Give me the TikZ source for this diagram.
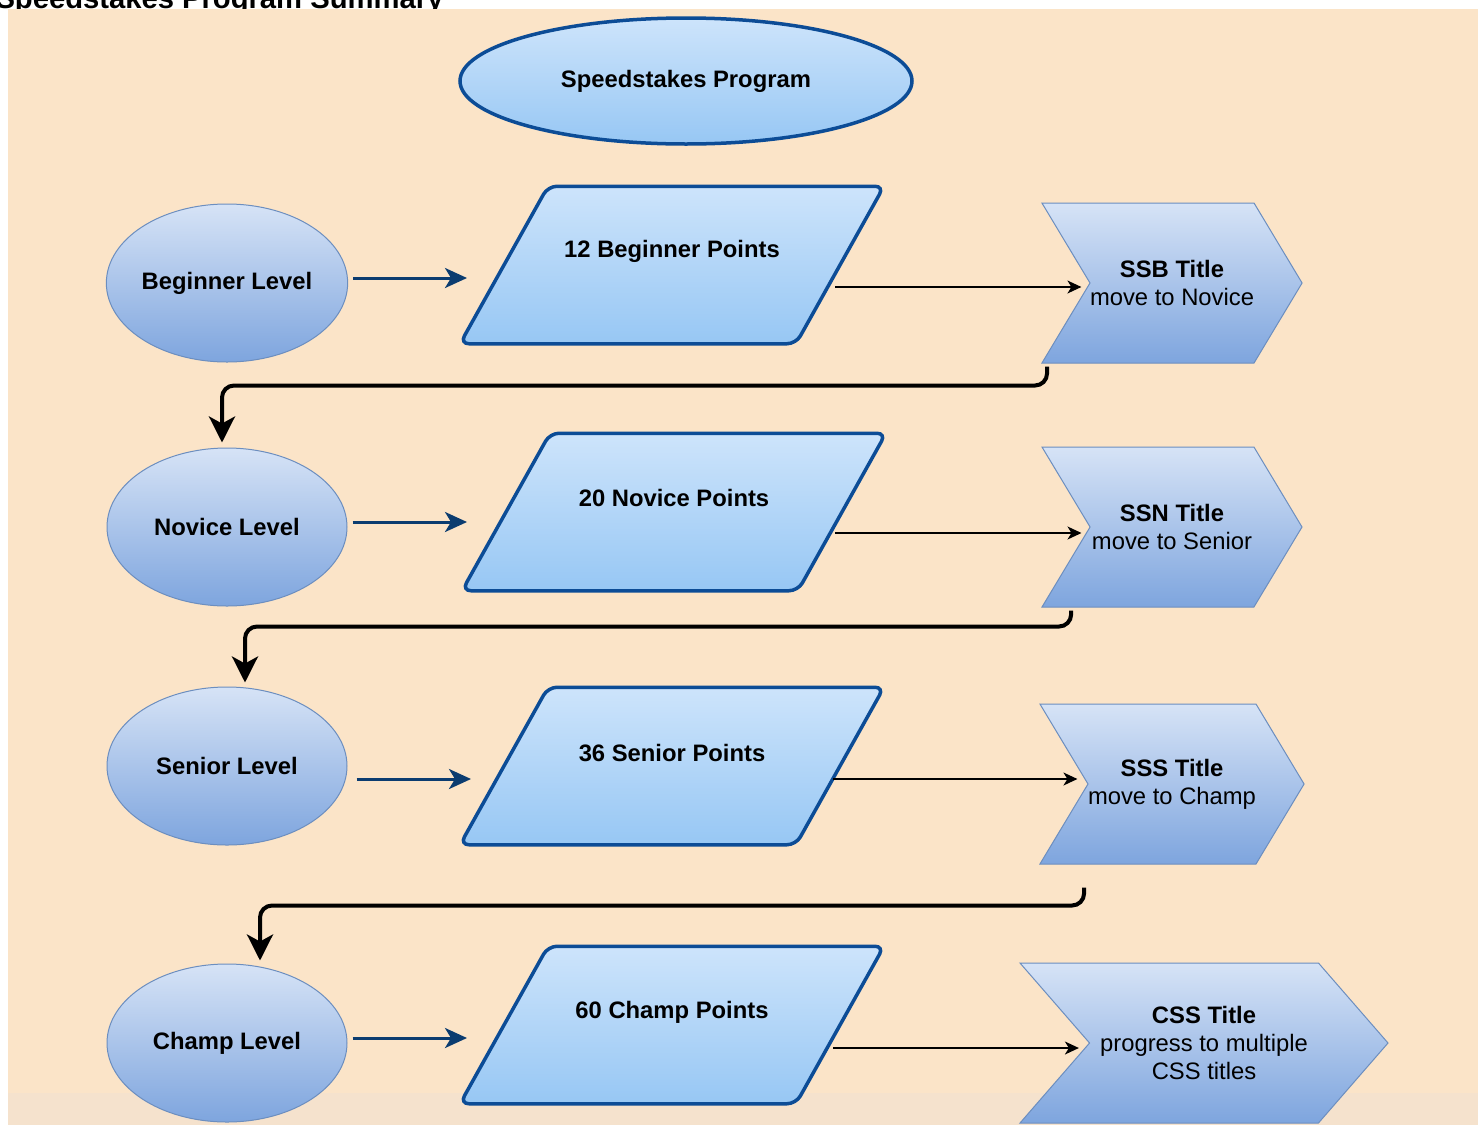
\documentclass[tikz,border=0pt]{standalone}
\usepackage{fontspec}
\setmainfont{Liberation Sans}
\usetikzlibrary{shapes.geometric, shapes.symbols, arrows.meta}

\definecolor{peach}{HTML}{FBE4C8}
\definecolor{peachlow}{HTML}{F5E2CD}
\definecolor{navy}{HTML}{0C4C96}
\definecolor{navyarrow}{HTML}{0B3C70}
\definecolor{skytop}{HTML}{CDE4FB}
\definecolor{skybot}{HTML}{97C7F4}
\definecolor{steeltop}{HTML}{D6E3F6}
\definecolor{steelbot}{HTML}{7EA5DE}
\definecolor{steelline}{HTML}{6C8EBF}

\begin{document}
\begin{tikzpicture}[x=1pt, y=-1pt, line width=1pt,
  every node/.style={font=\fontsize{23.8}{28}\selectfont, inner sep=0pt},
  program/.style={ellipse, draw=navy, line width=3.5pt, top color=skytop, bottom color=skybot,
                  minimum width=452pt, minimum height=126pt, font=\bfseries\fontsize{23.8}{28}\selectfont},
  level/.style={ellipse, draw=steelline, top color=steeltop, bottom color=steelbot,
                minimum width=240pt, minimum height=158pt, font=\bfseries\fontsize{23.8}{28}\selectfont},
  points/.style={rectangle, minimum width=423pt, minimum height=156.5pt},
  pointsframe/.style={draw=navy, line width=3.5pt, rounded corners=9pt, top color=skytop, bottom color=skybot},
  pointstext/.style={font=\bfseries\fontsize{23.8}{28}\selectfont},
  titlestep/.style={signal, signal from=west, signal to=east, signal pointer angle=118,
                    draw=steelline, top color=steeltop, bottom color=steelbot, align=center,
                    minimum width=260pt, minimum height=160pt},
  bluearrow/.style={draw=navyarrow, line width=3pt, -{Stealth[length=22pt, width=20pt, inset=6pt]}},
  thinarrow/.style={draw=black, line width=1.5pt, -{Stealth[length=14pt, width=13pt, inset=4pt]}},
  elbow/.style={draw=black, line width=4pt, rounded corners=12pt, -{Stealth[length=26pt, width=26pt, inset=7pt]}}
]

\useasboundingbox (0, 0) rectangle (1478, 1125);

% draw cut title and background
\node[anchor=base west, font=\bfseries\fontsize{29.2}{34}\selectfont] (summary) at (-5, 8) {Speedstakes Program Summary};
\fill[peach] (8, 9) rectangle (1478, 1125);
\fill[peachlow] (8, 1093) rectangle (1478, 1125);

% draw program
\node[program] (program) at (686, 81) {Speedstakes Program};

% draw levels
\node[level] (beginner) at (227, 283) {Beginner Level};
\node[level] (novice) at (227, 527) {Novice Level};
\node[level] (senior) at (227, 766) {Senior Level};
\node[level] (champ) at (227, 1043) {Champ Level};

% draw points
\node[points] (p1) at (672, 265) {};
\node[points] (p2) at (674, 512) {};
\node[points] (p3) at (672, 766) {};
\node[points] (p4) at (672, 1025) {};
\foreach \p in {p1, p2, p3, p4}
  \draw[pointsframe] ([xshift=88pt]\p.north west) -- (\p.north east) -- ([xshift=-88pt]\p.south east)
                     -- (\p.south west) -- cycle;
\node[pointstext] (p1text) at ([yshift=14pt]p1.center) {12 Beginner Points};
\node[pointstext] (p2text) at ([yshift=14pt]p2.center) {20 Novice Points};
\node[pointstext] (p3text) at ([yshift=13pt]p3.center) {36 Senior Points};
\node[pointstext] (p4text) at ([yshift=13pt]p4.center) {60 Champ Points};

% draw titles
\node[titlestep] (ssb) at (1172, 283) {\textbf{SSB Title}\\move to Novice};
\node[titlestep] (ssn) at (1172, 527) {\textbf{SSN Title}\\move to Senior};
\node[titlestep] (sss) at (1172, 784) {\textbf{SSS Title}\\move to Champ};
\node[titlestep, signal pointer angle=98, minimum width=368pt] (css) at (1204, 1043)
     {\textbf{CSS Title}\\progress to multiple\\CSS titles};

% draw level -> points
\draw[bluearrow, shorten <=5pt, shorten >=-7pt] ([yshift=5pt]beginner.east) -- ([yshift=5pt]beginner.east -| p1.west);
\draw[bluearrow, shorten <=5pt, shorten >=-5pt] ([yshift=5pt]novice.east) -- ([yshift=5pt]novice.east -| p2.west);
\draw[bluearrow, shorten <=9pt, shorten >=-11pt] ([yshift=-13pt]senior.east) -- ([yshift=-13pt]senior.east -| p3.west);
\draw[bluearrow, shorten <=5pt, shorten >=-7pt] ([yshift=5pt]champ.east) -- ([yshift=5pt]champ.east -| p4.west);

% draw points -> titles
\draw[thinarrow, shorten <=-49pt, shorten >=8pt] ([yshift=-4pt]ssb.west -| p1.east) -- ([yshift=-4pt]ssb.west);
\draw[thinarrow, shorten <=-51pt, shorten >=8pt] ([yshift=-6pt]ssn.west -| p2.east) -- ([yshift=-6pt]ssn.west);
\draw[thinarrow, shorten <=-51pt, shorten >=10pt] ([yshift=5pt]sss.west -| p3.east) -- ([yshift=5pt]sss.west);
\draw[thinarrow, shorten <=-51pt, shorten >=10pt] ([yshift=-5pt]css.west -| p4.east) -- ([yshift=-5pt]css.west);

% draw titles -> next level
\draw[elbow] ([xshift=6pt, yshift=-3pt]ssb.south west) -- ++(0, 19) -| ([xshift=-5pt, yshift=5pt]novice.north);
\draw[elbow] ([xshift=30pt, yshift=-3pt]ssn.south west) -- ++(0, 16) -| ([xshift=18pt, yshift=4pt]senior.north);
\draw[elbow] ([xshift=45pt, yshift=-23pt]sss.south west) -- ++(0, 18) -| ([xshift=33pt, yshift=3pt]champ.north);

\end{tikzpicture}
\end{document}
